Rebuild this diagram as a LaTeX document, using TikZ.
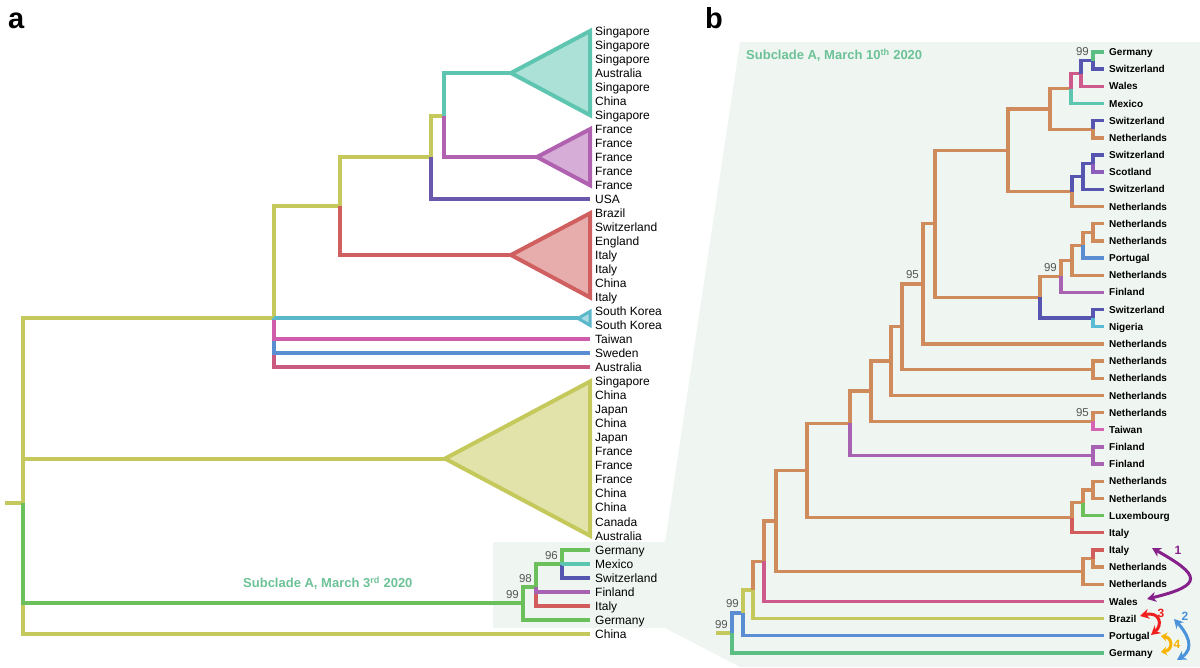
\documentclass[tikz,border=0pt]{standalone}
\usepackage{fontspec}
\setmainfont{Liberation Sans}
\usetikzlibrary{
    arrows.meta, % Stealth tips on the exchange arrows
    positioning
}

\definecolor{cOlive}{HTML}{C5C95C}
\definecolor{cTeal}{HTML}{5EC5B0}
\definecolor{cOrchid}{HTML}{B062B0}
\definecolor{cPurple}{HTML}{6A58AC}
\definecolor{cRed}{HTML}{D0605F}
\definecolor{cCyan}{HTML}{5BB8CA}
\definecolor{cPink}{HTML}{D05DAB}
\definecolor{cBlue}{HTML}{5B8DD2}
\definecolor{cCrimson}{HTML}{CB5A80}
\definecolor{cGreen}{HTML}{6CC05C}
\definecolor{cOrange}{HTML}{CF8B5B}
\definecolor{cSwiss}{HTML}{5656B0}
\definecolor{cScot}{HTML}{8D5DBB}
\definecolor{cFin}{HTML}{A862B2}
\definecolor{cNig}{HTML}{5AB9D3}
\definecolor{cWales}{HTML}{CD5A8A}
\definecolor{cItaly}{HTML}{D25C5C}
\definecolor{cGerB}{HTML}{5DBE83}
\definecolor{cTaiwan}{HTML}{D463B4}
\definecolor{cShade}{HTML}{EFF6F1}
\definecolor{cTitle}{HTML}{6CC296}
\definecolor{cBoot}{HTML}{555555}
\definecolor{cArrP}{HTML}{86208A}
\definecolor{cArrB}{HTML}{4A93DA}
\definecolor{cArrR}{HTML}{EE2020}
\definecolor{cArrO}{HTML}{F8B300}

\begin{document}
\begin{tikzpicture}[x=1pt,y=-1pt,
    elbow/.style={every edge/.style={draw, to path={|- (\tikztotarget)}}},
    br/.style={elbow, line width=4pt},
    brb/.style={elbow, line width=3.4pt},
    clade/.style={draw=#1, fill=#1!52!white, line width=4pt},
    tipa/.style={anchor=west, inner xsep=5pt, inner ysep=0pt, text height=8.6pt, text depth=0pt, font=\fontsize{12}{14}\selectfont},
    tipb/.style={anchor=west, inner xsep=5pt, inner ysep=0pt, text height=7.2pt, text depth=0pt, font=\bfseries\fontsize{10}{12}\selectfont},
    boot/.style={anchor=south east, inner sep=0pt, xshift=-4pt, yshift=4.5pt, text=cBoot, font=\fontsize{11.5}{12}\selectfont},
    title/.style={anchor=west, inner sep=0pt, text=cTitle, font=\bfseries\fontsize{13}{14}\selectfont},
    panel/.style={anchor=base west, inner sep=0pt, font=\bfseries\fontsize{29}{30}\selectfont},
    migr/.style={line width=3pt, {Stealth[length=9pt,width=10pt]}-{Stealth[length=9pt,width=10pt]}},
    num/.style={inner sep=0pt, font=\bfseries\fontsize{12}{12}\selectfont}
]
    \useasboundingbox (0,0) rectangle (1200,667);

    % zoom band from panel a into panel b
    \fill[cShade] (493,542) -- (665,542) -- (740,42) -- (1200,42) -- (1200,667)
        -- (740,667) -- (665,628) -- (493,628) -- cycle;

    \node[panel] (labA) at (8,28) {a};
    \node[panel] (labB) at (705,28) {b};

    % ---------------- panel a ----------------
    \foreach \lab [count=\i] in {Singapore, Singapore, Singapore, Australia, Singapore, China,
        Singapore, France, France, France, France, France, USA, Brazil, Switzerland, England,
        Italy, Italy, China, Italy, South Korea, South Korea, Taiwan, Sweden, Australia,
        Singapore, China, Japan, China, Japan, France, France, France, China, China, Canada,
        Australia, Germany, Mexico, Switzerland, Finland, Italy, Germany, China}
        \node[tipa] (a\i) at (590, {31+14.02*(\i-1)}) {\lab};

    \coordinate (stubA) at (5,503);
    \coordinate (rootA) at (23,503);
    \coordinate (nA1) at (274,318);
    \coordinate (nA2) at (340,206);
    \coordinate (nA3) at (431,157);
    \coordinate (nA4) at (444,116);
    \coordinate (nA5) at (523,603);
    \coordinate (nA6) at (536,587);
    \coordinate (nA7) at (562,564);
    \coordinate (tipTeal) at (511,73);
    \coordinate (tipMag) at (537,157);
    \coordinate (tipRed) at (511,255);
    \coordinate (tipKor) at (578,318.4);
    \coordinate (tipBig) at (445,458.6);

    \draw[clade=cTeal] (tipTeal) -- (a1.west) -- (a7.west) -- cycle;
    \draw[clade=cOrchid] (tipMag) -- (a8.west) -- (a12.west) -- cycle;
    \draw[clade=cRed] (tipRed) -- (a14.west) -- (a20.west) -- cycle;
    \draw[clade=cCyan, line width=3pt] (tipKor) -- (a21.west) -- (a22.west) -- cycle;
    \draw[clade=cOlive] (tipBig) -- (a26.west) -- (a37.west) -- cycle;

    \draw[br, cOlive] (stubA) -- (rootA);
    \path[br] (rootA) edge[cOlive] (nA1)
                      edge[cOlive] (tipBig)
                      edge[cOlive] (a44)
                      edge[cGreen] (nA5);
    \path[br] (nA1) edge[cOlive] (nA2)
                    edge[cCrimson] (a25)
                    edge[cBlue] (a24)
                    edge[cPink] (a23)
                    edge[cCyan] (tipKor);
    \path[br] (nA2) edge[cOlive] (nA3)
                    edge[cRed] (tipRed);
    \path[br] (nA3) edge[cOlive] (nA4)
                    edge[cPurple] (a13);
    \path[br] (nA4) edge[cTeal] (tipTeal)
                    edge[cOrchid] (tipMag);
    \path[br] (nA5) edge[cGreen] (nA6)
                    edge[cGreen] (a43);
    \path[br] (nA6) edge[cItaly] (a42)
                    edge[cFin] (a41)
                    edge[cGreen] (nA7);
    \path[br] (nA7) edge[cGreen] (a38)
                    edge[cSwiss] (a40)
                    edge[cTeal] (a39);

    \node[boot] at (nA5) {99};
    \node[boot] at (nA6) {98};
    \node[boot] at (nA7) {96};
    \node[title] (subA) at (243,583) {Subclade A, March 3\textsuperscript{rd} 2020};

    % ---------------- panel b ----------------
    \node[title] (subB) at (746,55) {Subclade A, March 10\textsuperscript{th} 2020};

    \foreach \lab [count=\i] in {Germany, Switzerland, Wales, Mexico, Switzerland, Netherlands,
        Switzerland, Scotland, Switzerland, Netherlands, Netherlands, Netherlands, Portugal,
        Netherlands, Finland, Switzerland, Nigeria, Netherlands, Netherlands, Netherlands,
        Netherlands, Netherlands, Taiwan, Finland, Finland, Netherlands, Netherlands,
        Luxembourg, Italy, Italy, Netherlands, Netherlands, Wales, Brazil, Portugal, Germany}
        \node[tipb] (b\i) at (1104, {52+17.17*(\i-1)}) {\lab};

    \coordinate (bn1) at (1093,60.6);
    \coordinate (bn2) at (1081,73.5);
    \coordinate (bn3) at (1071,88.5);
    \coordinate (bn4) at (1093,129.3);
    \coordinate (bn5) at (1050,108.9);
    \coordinate (bn6) at (1093,163.6);
    \coordinate (bn7) at (1083,176.5);
    \coordinate (bn8) at (1072,191.5);
    \coordinate (bn9) at (1008,150.2);
    \coordinate (bn10) at (1093,232.3);
    \coordinate (bn11) at (1083,245.2);
    \coordinate (bn12) at (1072,260.2);
    \coordinate (bn13) at (1061,276.3);
    \coordinate (bn14) at (1093,318.1);
    \coordinate (bn15) at (1040,297.2);
    \coordinate (bn16) at (935,223.7);
    \coordinate (bn17) at (923,283.8);
    \coordinate (bn18) at (1093,369.6);
    \coordinate (bn19) at (902,326.7);
    \coordinate (bn20) at (891,361.1);
    \coordinate (bn21) at (1093,421.2);
    \coordinate (bn22) at (871,391.1);
    \coordinate (bn23) at (1093,455.5);
    \coordinate (bn24) at (850,423.3);
    \coordinate (bn25) at (1093,489.8);
    \coordinate (bn26) at (1083,502.7);
    \coordinate (bn27) at (1072,517.7);
    \coordinate (bn28) at (807,470.5);
    \coordinate (bn29) at (1093,558.5);
    \coordinate (bn30) at (1083,571.4);
    \coordinate (bn31) at (776,521);
    \coordinate (bn32) at (764,561.2);
    \coordinate (bn33) at (753,589.9);
    \coordinate (bn34) at (743,612.8);
    \coordinate (bn35) at (732,632.9);
    \coordinate (stubB) at (716,632.9);

    \draw[brb, cOlive] (stubB) -- (bn35);
    \path[brb] (bn35) edge[cBlue] (bn34) edge[cGerB] (b36);
    \path[brb] (bn34) edge[cOlive] (bn33) edge[cBlue] (b35);
    \path[brb] (bn33) edge[cOrange] (bn32) edge[cOlive] (b34);
    \path[brb] (bn32) edge[cOrange] (bn31) edge[cWales] (b33);
    \path[brb] (bn31) edge[cOrange] (bn28) edge[cOrange] (bn30);
    \path[brb] (bn30) edge[cOrange] (bn29) edge[cOrange] (b32);
    \path[brb] (bn29) edge[cItaly] (b30) edge[cOrange] (b31);
    \path[brb] (bn28) edge[cOrange] (bn24) edge[cOrange] (bn27);
    \path[brb] (bn27) edge[cOrange] (bn26) edge[cItaly] (b29);
    \path[brb] (bn26) edge[cOrange] (bn25) edge[cGreen] (b28);
    \path[brb] (bn25) edge[cOrange] (b26) edge[cOrange] (b27);
    \path[brb] (bn24) edge[cOrange] (bn22) edge[cFin] (bn23);
    \path[brb] (bn23) edge[cFin] (b24) edge[cFin] (b25);
    \path[brb] (bn22) edge[cOrange] (bn20) edge[cOrange] (bn21);
    \path[brb] (bn21) edge[cOrange] (b22) edge[cTaiwan] (b23);
    \path[brb] (bn20) edge[cOrange] (bn19) edge[cOrange] (b21);
    \path[brb] (bn19) edge[cOrange] (bn17) edge[cOrange] (bn18);
    \path[brb] (bn18) edge[cOrange] (b19) edge[cOrange] (b20);
    \path[brb] (bn17) edge[cOrange] (bn16) edge[cOrange] (b18);
    \path[brb] (bn16) edge[cOrange] (bn9) edge[cOrange] (bn15);
    \path[brb] (bn15) edge[cOrange] (bn13) edge[cSwiss] (bn14);
    \path[brb] (bn14) edge[cSwiss] (b16) edge[cNig] (b17);
    \path[brb] (bn13) edge[cOrange] (bn12) edge[cFin] (b15);
    \path[brb] (bn12) edge[cOrange] (bn11) edge[cOrange] (b14);
    \path[brb] (bn11) edge[cOrange] (bn10) edge[cBlue] (b13);
    \path[brb] (bn10) edge[cOrange] (b11) edge[cOrange] (b12);
    \path[brb] (bn9) edge[cOrange] (bn5) edge[cOrange] (bn8);
    \path[brb] (bn8) edge[cSwiss] (bn7) edge[cOrange] (b10);
    \path[brb] (bn7) edge[cSwiss] (bn6) edge[cSwiss] (b9);
    \path[brb] (bn6) edge[cSwiss] (b7) edge[cScot] (b8);
    \path[brb] (bn5) edge[cOrange] (bn3) edge[cOrange] (bn4);
    \path[brb] (bn4) edge[cSwiss] (b5) edge[cOrange] (b6);
    \path[brb] (bn3) edge[cWales] (bn2) edge[cTeal] (b4);
    \path[brb] (bn2) edge[cSwiss] (bn1) edge[cWales] (b3);
    \path[brb] (bn1) edge[cGerB] (b1) edge[cSwiss] (b2);

    \node[boot] at (bn1) {99};
    \node[boot] at (bn13) {99};
    \node[boot] at (bn17) {95};
    \node[boot] at (bn21) {95};
    \node[boot] at (bn34) {99};
    \node[boot] at (bn35) {99};

    % exchanges between countries
    \coordinate (m1a) at (1152,548);
    \coordinate (m1b) at (1147,599);
    \coordinate (m2a) at (1174,619);
    \coordinate (m2b) at (1177,660);
    \coordinate (m3a) at (1140,616);
    \coordinate (m3b) at (1151,635);
    \coordinate (m4a) at (1161,636);
    \coordinate (m4b) at (1161,652);
    \draw[migr, cArrP] (m1a) .. controls (1200,575) and (1205,585) .. (m1b);
    \draw[migr, cArrB] (m2a) .. controls (1186,632) and (1196,648) .. (m2b);
    \draw[migr, cArrR] (m3a) .. controls (1160,611) and (1163,625) .. (m3b);
    \draw[migr, cArrO, {Stealth[length=6pt,width=9pt]}-{Stealth[length=6pt,width=9pt]}]
        (m4a) .. controls (1173,638) and (1173,650) .. (m4b);
    \node[num, text=cArrP] (k1) at (1178,550) {1};
    \node[num, text=cArrB] (k2) at (1185,616) {2};
    \node[num, text=cArrR] (k3) at (1161,613) {3};
    \node[num, text=cArrO] (k4) at (1177,644) {4};
\end{tikzpicture}
\end{document}
